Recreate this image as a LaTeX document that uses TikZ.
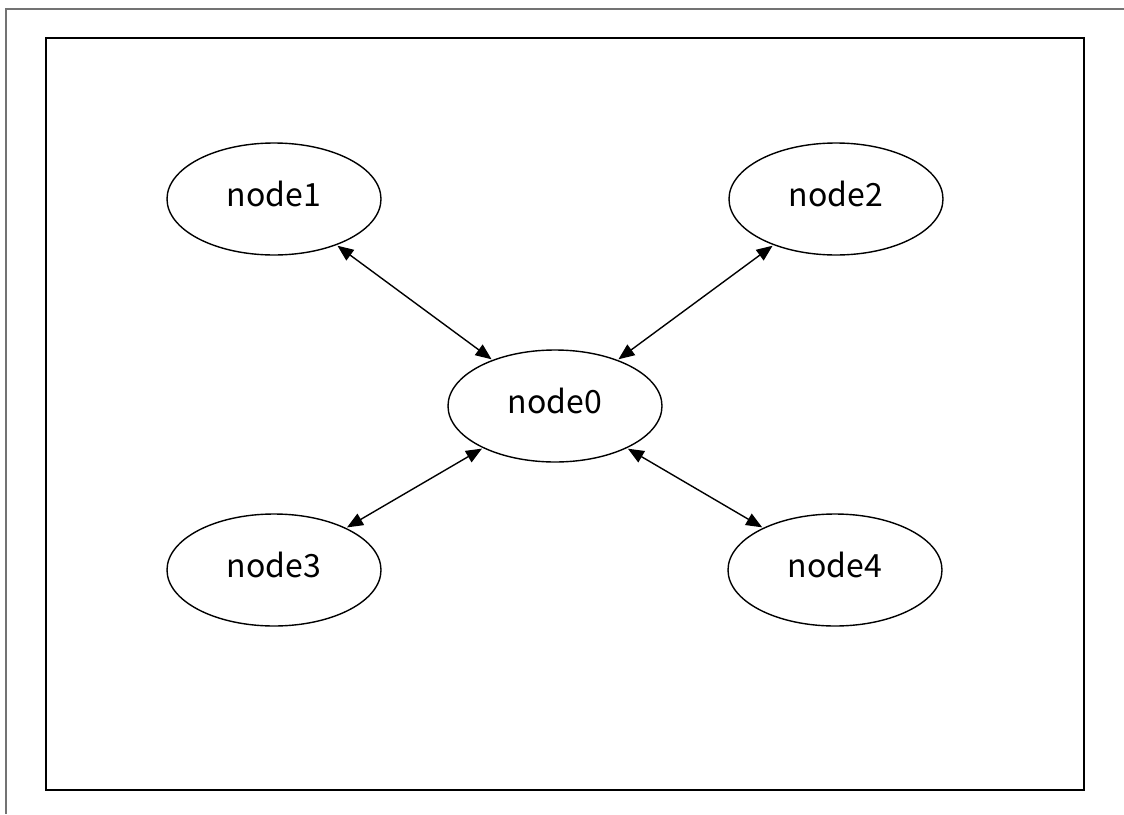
\documentclass[tikz,border=0pt]{standalone}
\usepackage{fontspec}
\newfontfamily\jpfont{Noto Sans CJK JP}
\usetikzlibrary{shapes.geometric,arrows.meta}
\begin{document}
\begin{tikzpicture}[x=1pt,y=-1pt,
  nd/.style={draw, line width=1.4pt, ellipse, minimum width=214pt, minimum height=112pt, inner sep=0pt, text depth=10pt, font=\jpfont\fontsize{32}{32}\selectfont},
  link/.style={line width=1.4pt, {Triangle[length=16pt,width=13pt]}-{Triangle[length=16pt,width=13pt]}, shorten <=1pt, shorten >=1pt}]
\useasboundingbox (0,0) rectangle (1124,814);
\draw[line width=2pt, color=black!55] (1124,9) -- (6,9) -- (6,814);
\draw[line width=2pt] (46,38) rectangle (1084,790);
\node[nd] (n1) at (274,199) {node1};
\node[nd] (n2) at (836,199) {node2};
\node[nd] (n0) at (555,406) {node0};
\node[nd] (n3) at (274,570) {node3};
\node[nd] (n4) at (835,570) {node4};
\draw[link] (n1) -- (n0);
\draw[link] (n2) -- (n0);
\draw[link] (n0) -- (n3);
\draw[link] (n0) -- (n4);
\end{tikzpicture}
\end{document}
